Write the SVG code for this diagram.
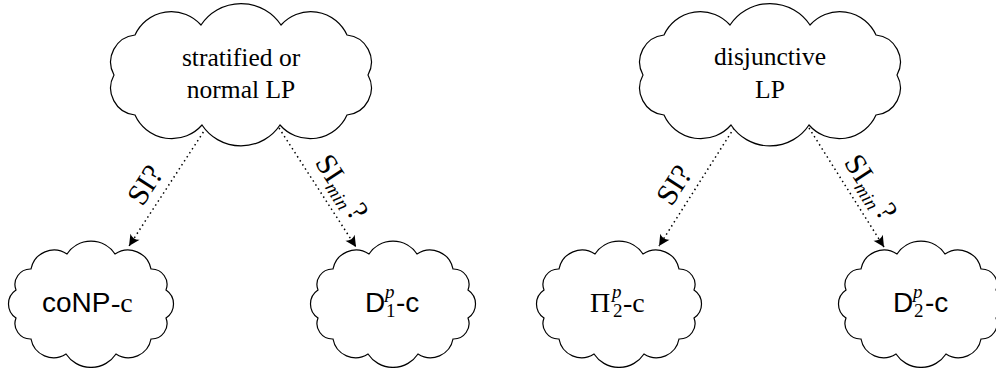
<svg xmlns="http://www.w3.org/2000/svg" xmlns:xlink="http://www.w3.org/1999/xlink" width="996" height="368" viewBox="0 0 996 368">
<style>
.cloud{fill:#fff;stroke:#000;stroke-width:1.2}
.t{font-family:"Liberation Serif","Times New Roman",serif;font-size:25.5px;fill:#000}
.sans{font-family:"Liberation Sans",Arial,sans-serif;font-size:28px;fill:#000}
.serif{font-family:"Liberation Serif","Times New Roman",serif;font-size:28px;fill:#000}
.scr{font-family:"Liberation Serif","Times New Roman",serif;font-size:19px;fill:#000}
.it{font-style:italic}
.lbl{font-family:"Liberation Serif","Times New Roman",serif;font-size:30px;fill:#000}
.sub{font-size:19px;font-style:italic}
.edge{fill:none;stroke:#000;stroke-width:1.5;stroke-dasharray:1.5 3.3}
</style>
<defs>
<path id="bigCloud" d="M127,0 A27.1,27.1 0 0 0 106,-40 A39.8,39.8 0 0 0 40,-50 A48,48 0 0 0 -40,-50 A39.8,39.8 0 0 0 -106,-40 A27.1,27.1 0 0 0 -127,0 A27.1,27.1 0 0 0 -106,40 A40.3,40.3 0 0 0 -39,50 A46.8,46.8 0 0 0 39,50 A40.3,40.3 0 0 0 106,40 A27.1,27.1 0 0 0 127,0 Z"/>
<path id="smallCloud" d="M75,-14 A15.5,15.5 0 0 0 60,-35 A23.4,23.4 0 0 0 24,-50 A28.8,28.8 0 0 0 -24,-50 A23.4,23.4 0 0 0 -60,-35 A15.5,15.5 0 0 0 -75,-14 A16.8,16.8 0 0 0 -75,14 A15.5,15.5 0 0 0 -60,35 A22.9,22.9 0 0 0 -25,50 A30,30 0 0 0 25,50 A22.9,22.9 0 0 0 60,35 A15.5,15.5 0 0 0 75,14 A16.8,16.8 0 0 0 75,-14 Z"/>
<marker id="arr" markerUnits="userSpaceOnUse" viewBox="0 0 14 14" markerWidth="14" markerHeight="14" refX="12" refY="7" orient="auto">
<path d="M12,7 L1,1.5 Q5,7 1,12.5 Z" fill="#000"/>
</marker>
</defs>

<g id="connectors">
<line class="edge" x1="206" y1="128" x2="129" y2="246" marker-end="url(#arr)"/>
<line class="edge" x1="279" y1="128" x2="356" y2="247" marker-end="url(#arr)"/>
<line class="edge" x1="734" y1="128" x2="659" y2="246" marker-end="url(#arr)"/>
<line class="edge" x1="809" y1="128" x2="884" y2="247" marker-end="url(#arr)"/>
<g transform="translate(145,185) rotate(-57)"><text class="lbl" x="0" y="10" text-anchor="middle">SI?</text></g>
<g transform="translate(342,187) rotate(57)"><text class="lbl" x="0" y="10" text-anchor="middle">SI<tspan class="sub" dy="5">min</tspan><tspan dx="3" dy="-5">?</tspan></text></g>
<g transform="translate(674,185) rotate(-57)"><text class="lbl" x="0" y="10" text-anchor="middle">SI?</text></g>
<g transform="translate(871,187) rotate(57)"><text class="lbl" x="0" y="10" text-anchor="middle">SI<tspan class="sub" dy="5">min</tspan><tspan dx="3" dy="-5">?</tspan></text></g>
</g>

<g id="stratified">
<use xlink:href="#bigCloud" href="#bigCloud" class="cloud" transform="translate(241,75)"/>
<text class="t" x="241" y="66" text-anchor="middle">stratified or</text>
<text class="t" x="241" y="98" text-anchor="middle">normal LP</text>
</g>

<g id="disjunctive">
<use xlink:href="#bigCloud" href="#bigCloud" class="cloud" transform="translate(770,75)"/>
<text class="t" x="770" y="65" text-anchor="middle">disjunctive</text>
<text class="t" x="770" y="98" text-anchor="middle">LP</text>
</g>

<g id="conp">
<use xlink:href="#smallCloud" href="#smallCloud" class="cloud" transform="translate(91,304)"/>
<text class="sans" x="42" y="311.5">coNP</text>
<text class="serif" x="111" y="311.5">-c</text>
</g>

<g id="d1p">
<use xlink:href="#smallCloud" href="#smallCloud" class="cloud" transform="translate(393,304)"/>
<text class="sans" x="365" y="311.5">D</text>
<text class="scr it" x="385" y="298">p</text>
<text class="scr" x="386" y="317">1</text>
<text class="sans" x="396" y="311.5">-c</text>
</g>

<g id="pi2p">
<use xlink:href="#smallCloud" href="#smallCloud" class="cloud" transform="translate(619,304)"/>
<text class="serif" x="590" y="311.5">Π</text>
<text class="scr it" x="612" y="298">p</text>
<text class="scr" x="613" y="317">2</text>
<text class="serif" x="623" y="311.5">-c</text>
</g>

<g id="d2p">
<use xlink:href="#smallCloud" href="#smallCloud" class="cloud" transform="translate(921,304)"/>
<text class="sans" x="893" y="311.5">D</text>
<text class="scr it" x="913" y="298">p</text>
<text class="scr" x="914" y="317">2</text>
<text class="sans" x="925" y="311.5">-c</text>
</g>
</svg>
